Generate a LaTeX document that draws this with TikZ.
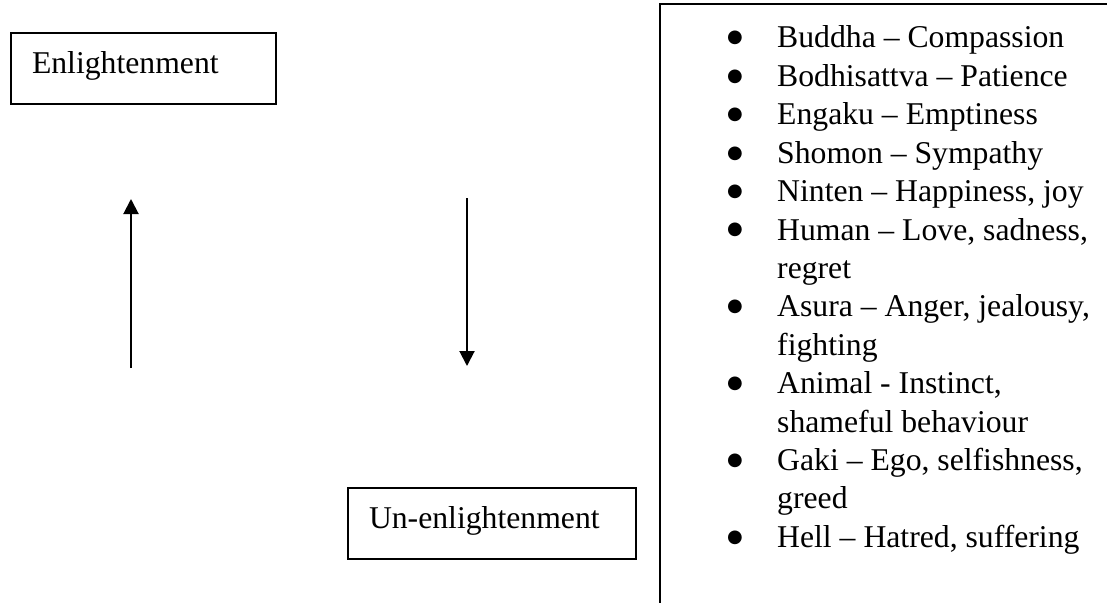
\documentclass[tikz,border=0pt]{standalone}
\usepackage{fontspec}
\setmainfont{Liberation Serif}
\newfontfamily\dotfont{DejaVu Sans}
\usetikzlibrary{arrows.meta}
\newcommand{\lvldot}{\raisebox{5pt}{\dotfont\fontsize{18}{18}\selectfont ●}}

\begin{document}
\begin{tikzpicture}[x=1pt, y=-1pt,
  statebox/.style={draw, line width=2pt, anchor=north west, inner xsep=21pt, inner ysep=10pt,
    text height=30.5pt, text depth=20.5pt, align=left, font=\fontsize{31.7}{38.4}\selectfont},
  pathline/.style={line width=2pt, -{Triangle[length=15pt, width=15pt]}}]
\useasboundingbox (0,0) rectangle (1107,602);
\clip (0,0) rectangle (1107,602);
\node[statebox, text width=223pt] (enl) at (10,32) {Enlightenment};
\node[statebox, text width=246pt] (unenl) at (347,487) {Un-enlightenment};
\coordinate (upfoot) at (131,368);
\coordinate (uptip) at (131,199);
\coordinate (downtop) at (467,198);
\coordinate (downtip) at (467,366);
\draw[pathline] (upfoot) -- (uptip);
\draw[pathline] (downtop) -- (downtip);
\draw[line width=2pt] (1120,4) -- (660,4) -- (660,615);
\node[anchor=base west, inner sep=0pt, font=\fontsize{31.7}{38.4}\selectfont] (levels) at (727,48) {%
\begin{tabular}[t]{@{}p{50pt}@{}l@{}}
\lvldot & Buddha – Compassion\\
\lvldot & Bodhisattva – Patience\\
\lvldot & Engaku – Emptiness\\
\lvldot & Shomon – Sympathy\\
\lvldot & Ninten – Happiness, joy\\
\lvldot & Human – Love, sadness,\\
        & regret\\
\lvldot & Asura – Anger, jealousy,\\
        & fighting\\
\lvldot & Animal - Instinct,\\
        & shameful behaviour\\
\lvldot & Gaki – Ego, selfishness,\\
        & greed\\
\lvldot & Hell – Hatred, suffering
\end{tabular}};
\end{tikzpicture}
\end{document}
